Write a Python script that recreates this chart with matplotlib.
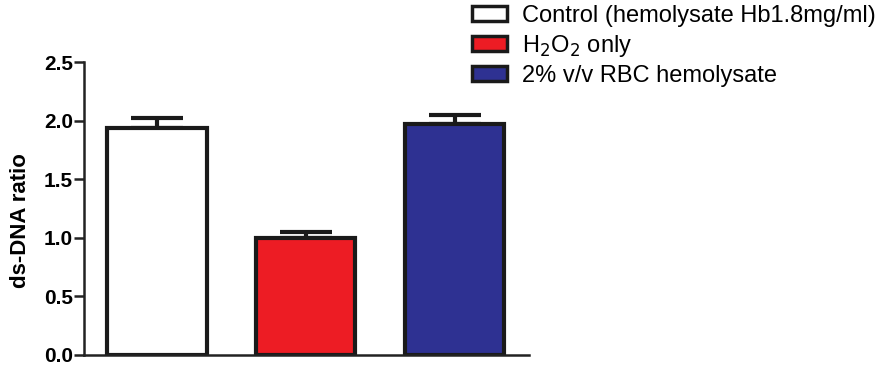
import matplotlib
matplotlib.use("Agg")
import matplotlib.pyplot as plt
from matplotlib.patches import Patch

plt.rcParams['font.family'] = ['Liberation Sans', 'DejaVu Sans']

categories = ["Control (hemolysate Hb1.8mg/ml)", "H$_2$O$_2$ only", "2% v/v RBC hemolysate"]
values = [1.94, 1.00, 1.97]
errors = [0.08, 0.05, 0.08]
colors = ["#ffffff", "#ed1c24", "#2e3192"]
yticks = [0.0, 0.5, 1.0, 1.5, 2.0, 2.5]

fig = plt.figure(figsize=(8.83, 3.69), dpi=100)
ax = fig.add_axes([84/883, 1-355/369, (529-84)/883, (355-62)/369])

x = list(range(len(values)))
ax.bar(x, values, width=0.667, color=colors, edgecolor="#1a1a1a", linewidth=3.0, zorder=2)
ax.errorbar(x, values, yerr=[[0]*len(errors), errors], fmt="none", ecolor="#1a1a1a",
            elinewidth=3.0, capsize=19, capthick=3.0, zorder=1)

ax.set_xlim(-0.49, 2.5)
ax.set_ylim(0, 2.5)
ax.set_yticks(yticks)
ax.set_yticklabels([f"{v:.1f}" for v in yticks], fontsize=15, fontweight="bold")
ax.set_xticks([])
ax.set_ylabel("ds-DNA ratio", fontsize=16, fontweight="bold")
ax.yaxis.set_label_coords(-0.118, 0.46)
for s in ["top", "right"]:
    ax.spines[s].set_visible(False)
for s in ["left", "bottom"]:
    ax.spines[s].set_linewidth(1.8)
    ax.spines[s].set_color("#222222")
ax.tick_params(axis="y", direction="out", length=7, width=1.8, color="#222222", pad=1)

handles = [Patch(facecolor=c, edgecolor="#1a1a1a", linewidth=2.5) for c in colors]
fig.legend(handles, categories, loc="upper left", bbox_to_anchor=(472/883, 1-5/369),
           frameon=False, fontsize=17, handlelength=1.5, handleheight=0.6,
           labelspacing=0.25, handletextpad=0.6, borderpad=0, borderaxespad=0)

fig.savefig("out.png", dpi=100)
